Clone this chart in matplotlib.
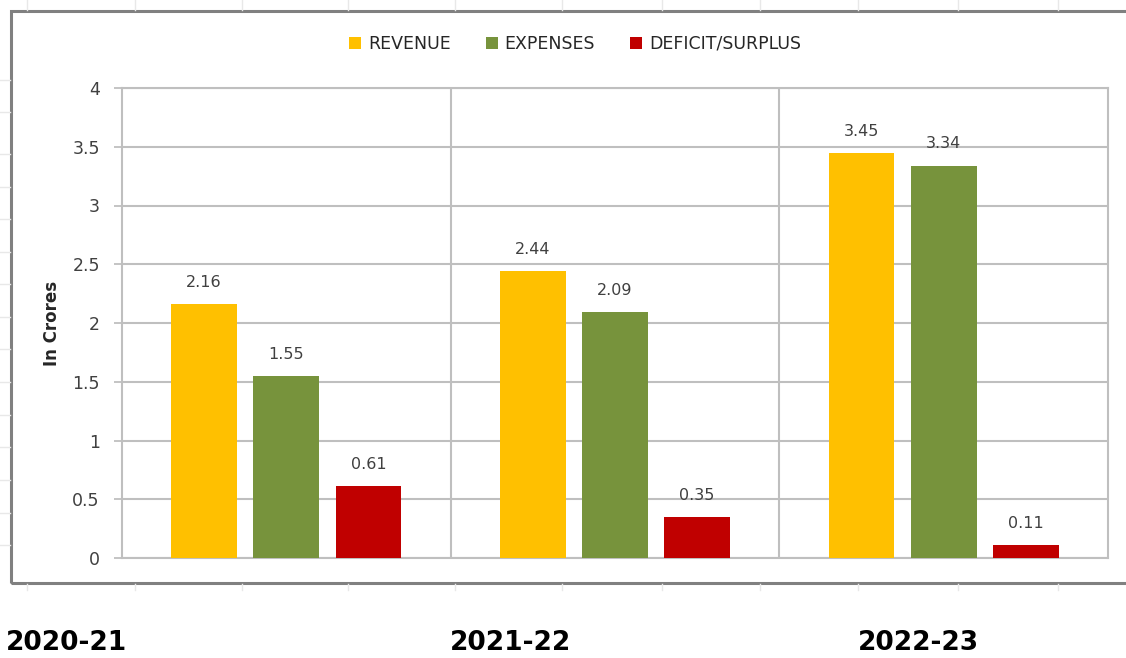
import matplotlib
matplotlib.use("Agg")
import matplotlib.pyplot as plt
from matplotlib.patches import Rectangle
from matplotlib.lines import Line2D
import numpy as np

categories = ["2020-21", "2021-22", "2022-23"]
revenue = [2.16, 2.44, 3.45]
expenses = [1.55, 2.09, 3.34]
deficit = [0.61, 0.35, 0.11]
series_names = ["REVENUE", "EXPENSES", "DEFICIT/SURPLUS"]
colors = ["#FFC000", "#77933C", "#C00000"]
yticks = [0, 0.5, 1, 1.5, 2, 2.5, 3, 3.5, 4]

W, H = 1126, 658
fig = plt.figure(figsize=(W / 100, H / 100), dpi=100)
fig.patch.set_facecolor("white")

# faint spreadsheet grid behind the chart
faint = "#E8E8E8"
for y in [80, 112, 154, 187, 219, 252, 284, 317, 349, 382, 415, 447, 480, 513, 545]:
    fig.add_artist(Line2D([0, 10 / W], [1 - y / H, 1 - y / H], color=faint, lw=1))
for x in [27, 135, 242, 348, 455, 562, 662, 760, 858, 958, 1058]:
    fig.add_artist(Line2D([x / W, x / W], [1, 1 - 10 / H], color=faint, lw=1))
    fig.add_artist(Line2D([x / W, x / W], [1 - 584 / H, 1 - 590 / H], color=faint, lw=1))

# outer chart border
fig.add_artist(Rectangle((11 / W, 1 - 583 / H), 1.2, (583 - 11) / H,
                         transform=fig.transFigure, fill=False,
                         edgecolor="#808080", lw=2.2))

ax = fig.add_axes([122 / W, 1 - 558 / H, (1108 - 122) / W, (558 - 88) / H])
x = np.arange(len(categories))
width = 0.2
offsets = [-0.25, 0, 0.25]
data = [revenue, expenses, deficit]
for vals, off, c, name in zip(data, offsets, colors, series_names):
    bars = ax.bar(x + off, vals, width, color=c, label=name, zorder=3)
    for b, v in zip(bars, vals):
        ax.text(b.get_x() + b.get_width() / 2, v + 0.12, f"{v:.2f}",
                ha="center", va="bottom", fontsize=11.5, color="#404040", zorder=4)

ax.set_xlim(-0.5, 2.5)
ax.set_ylim(0, 4)
ax.set_yticks(yticks)
ax.set_yticklabels([f"{t:g}" for t in yticks], fontsize=12.5, color="#404040")
ax.tick_params(axis="y", length=6, width=1.3, color="#BFBFBF", pad=10)
ax.set_xticks([])
ax.grid(axis="y", color="#BFBFBF", lw=1.5, zorder=0)
for xs in [0.5, 1.5]:
    ax.axvline(xs, color="#BFBFBF", lw=1.5, zorder=0)
for sp in ax.spines.values():
    sp.set_color("#BFBFBF")
    sp.set_linewidth(1.5)
ax.set_ylabel("In Crores", fontsize=12, fontweight="bold", color="#262626", labelpad=8)

leg = fig.legend(loc="center", bbox_to_anchor=(575 / W, 1 - 44 / H), ncol=3,
                 frameon=False, fontsize=12.5, handlelength=0.7, handleheight=0.7,
                 handletextpad=0.4, columnspacing=2.0)
for t in leg.get_texts():
    t.set_color("#262626")

# category labels below the chart box
for lab, xc in zip(categories, [67, 511, 918]):
    fig.text(xc / W, 1 - 643 / H, lab, ha="center", va="center",
             fontsize=19, fontweight="bold", color="black")

fig.savefig("out.png", dpi=100, facecolor="white")
